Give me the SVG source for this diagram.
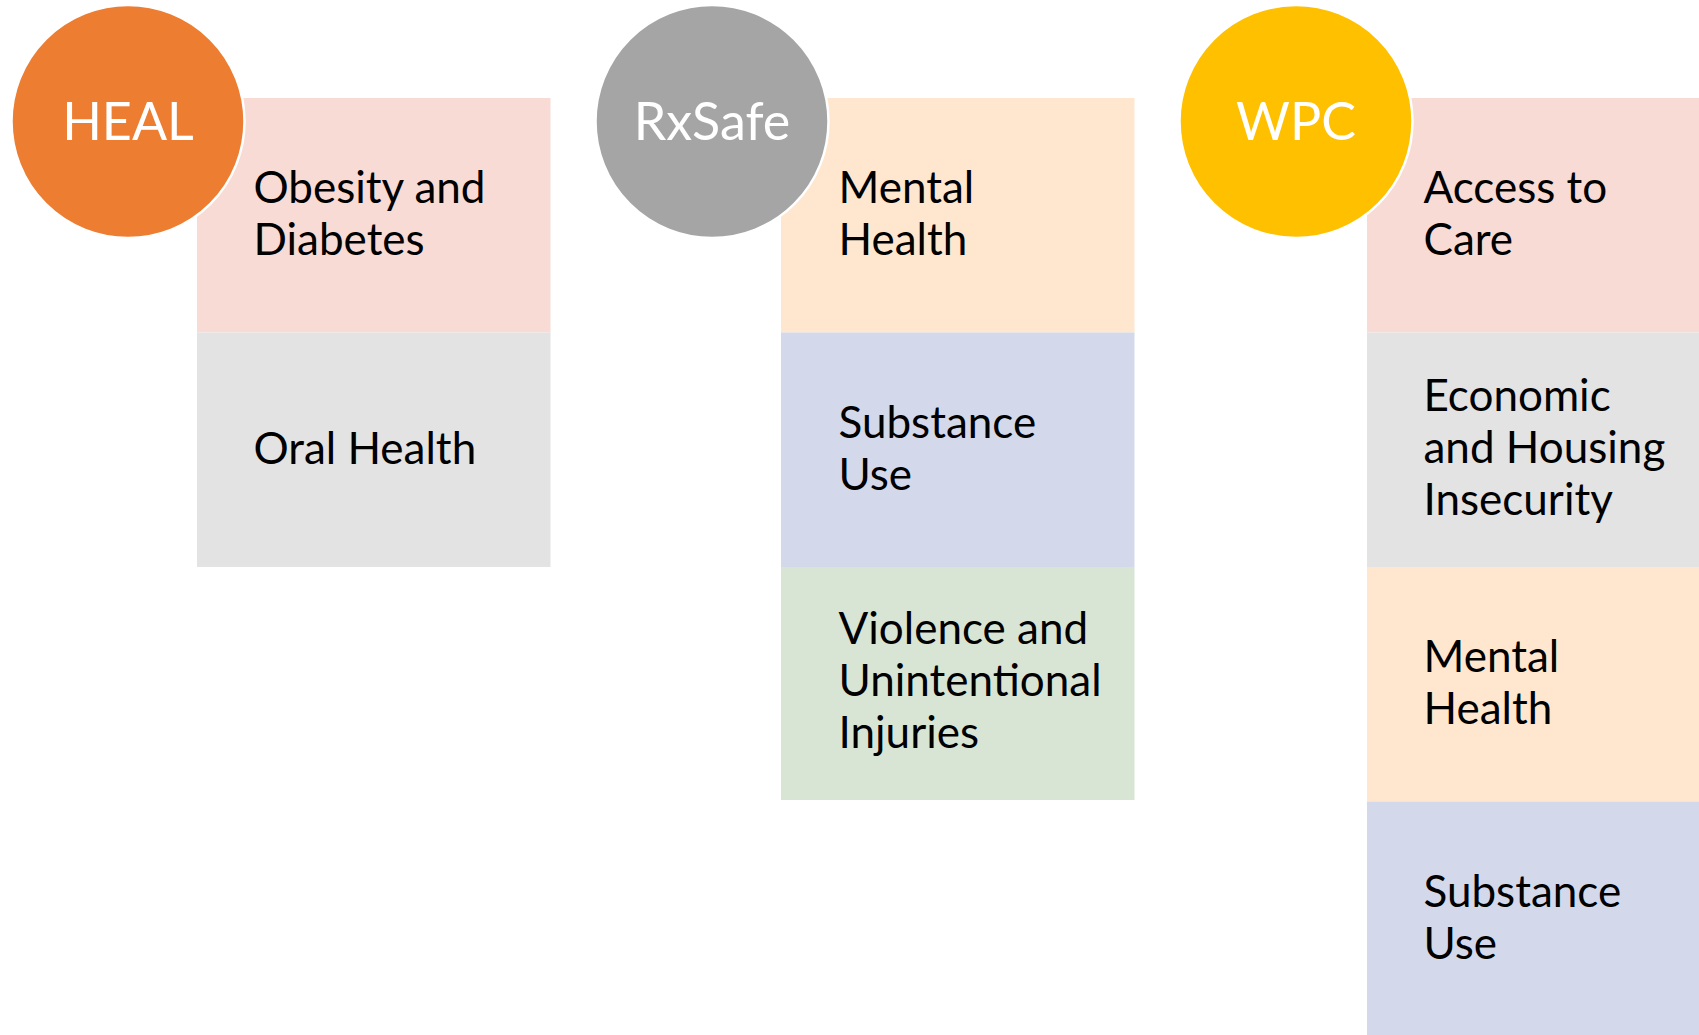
<svg xmlns="http://www.w3.org/2000/svg" width="1699" height="1035" viewBox="0 0 1699 1035">
<style>
.lbl{font-family:Lato,"Open Sans","Liberation Sans",sans-serif;font-size:44px;fill:#000}
.hd{font-family:Lato,"Open Sans","Liberation Sans",sans-serif;font-size:52px;fill:#fff;text-anchor:middle}
.circ{stroke:#fff;stroke-width:2.5}
.pink{fill:#F7DBD4}.grey{fill:#E3E3E3}.peach{fill:#FFE7CF}.blue{fill:#D3D9EB}.green{fill:#D9E5D4}
</style>
<rect width="1699" height="1035" fill="#fff"/>
<g id="connectors"/>
<g id="heal-group">
<g id="heal-obesity"><rect class="pink" x="197" y="98" width="353.5" height="234.5"/>
<text class="lbl"><tspan x="253.5" y="203">Obesity and</tspan><tspan x="253.5" y="255.3">Diabetes</tspan></text></g>
<g id="heal-oral"><rect class="grey" x="197" y="332.5" width="353.5" height="234.5"/>
<text class="lbl" x="253.5" y="463.5">Oral Health</text></g>
<g id="heal"><circle class="circ" cx="128" cy="121.5" r="116.5" fill="#ED7D31"/>
<text class="hd" x="128" y="140">HEAL</text></g>
</g>
<g id="rxsafe-group">
<g id="rx-mental"><rect class="peach" x="781" y="98" width="353.5" height="234.5"/>
<text class="lbl"><tspan x="838.5" y="203">Mental</tspan><tspan x="838.5" y="255.3">Health</tspan></text></g>
<g id="rx-substance"><rect class="blue" x="781" y="332.5" width="353.5" height="234.5"/>
<text class="lbl"><tspan x="838.5" y="437.5">Substance</tspan><tspan x="838.5" y="489.8">Use</tspan></text></g>
<g id="rx-violence"><rect class="green" x="781" y="567" width="353.5" height="233"/>
<text class="lbl"><tspan x="838.5" y="643.8">Violence and</tspan><tspan x="838.5" y="696.1">Unintentional</tspan><tspan x="838.5" y="748.4">Injuries</tspan></text></g>
<g id="rxsafe"><circle class="circ" cx="712" cy="121.5" r="116.5" fill="#A5A5A5"/>
<text class="hd" x="712" y="140">RxSafe</text></g>
</g>
<g id="wpc-group">
<g id="wpc-access"><rect class="pink" x="1367" y="98" width="332" height="234.5"/>
<text class="lbl"><tspan x="1423.5" y="203">Access to</tspan><tspan x="1423.5" y="255.3">Care</tspan></text></g>
<g id="wpc-economic"><rect class="grey" x="1367" y="332.5" width="332" height="234.5"/>
<text class="lbl"><tspan x="1423.5" y="410.7">Economic</tspan><tspan x="1423.5" y="463">and Housing</tspan><tspan x="1423.5" y="515.3">Insecurity</tspan></text></g>
<g id="wpc-mental"><rect class="peach" x="1367" y="567" width="332" height="234.5"/>
<text class="lbl"><tspan x="1423.5" y="672">Mental</tspan><tspan x="1423.5" y="724.3">Health</tspan></text></g>
<g id="wpc-substance"><rect class="blue" x="1367" y="801.5" width="332" height="234"/>
<text class="lbl"><tspan x="1423.5" y="906.5">Substance</tspan><tspan x="1423.5" y="958.8">Use</tspan></text></g>
<g id="wpc"><circle class="circ" cx="1296" cy="121.5" r="116.5" fill="#FFC000"/>
<text class="hd" x="1296" y="140">WPC</text></g>
</g>
</svg>
